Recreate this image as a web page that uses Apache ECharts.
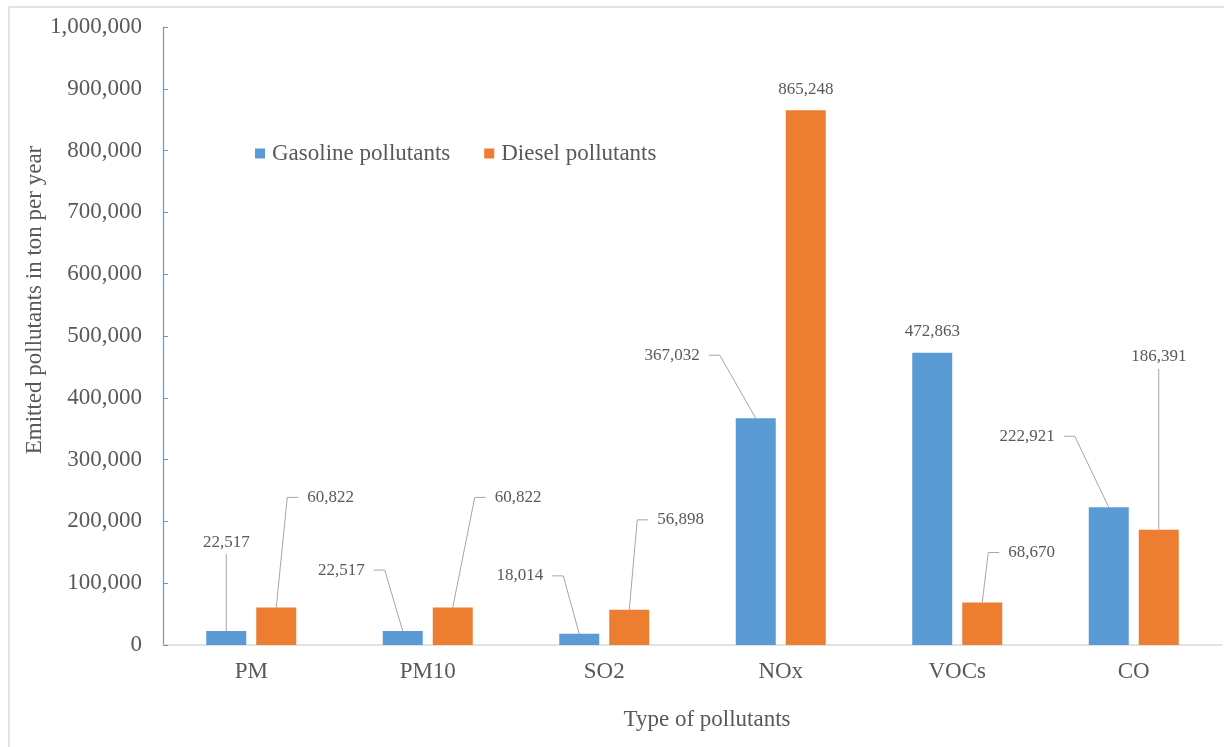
<!DOCTYPE html>
<html>
<head>
<meta charset="utf-8">
<script src="https://cdn.jsdelivr.net/npm/echarts@6/dist/echarts.min.js"></script>
<style>html,body{margin:0;padding:0;background:#fff;}#c{width:1224px;height:747px;}</style>
</head>
<body>
<div id="c"></div>
<script>
// ---- data ----
var categories = ['PM', 'PM10', 'SO2', 'NOx', 'VOCs', 'CO'];
var gasolineValues = [22517, 22517, 18014, 367032, 472863, 222921];
var dieselValues = [60822, 60822, 56898, 865248, 68670, 186391];
var seriesNames = ['Gasoline pollutants', 'Diesel pollutants'];
var yTicks = { min: 0, max: 1000000, interval: 100000 };

// ---- label placement (style, pixel offsets from bar top centre) ----
// side: 'c' = centred with vertical leader, 'n' = centred no leader,
//       'r' = text to the left of bar (right aligned), 'l' = text to the right of bar
var gasolineLabelPos = [
  { side: 'c', dx: 0, dy: -89 },
  { side: 'r', dx: -38, dy: -61 },
  { side: 'r', dx: -36, dy: -58 },
  { side: 'r', dx: -56, dy: -63 },
  { side: 'n', dx: 0, dy: -21 },
  { side: 'r', dx: -54, dy: -71 }
];
var dieselLabelPos = [
  { side: 'l', dx: 31, dy: -110 },
  { side: 'l', dx: 42, dy: -110 },
  { side: 'l', dx: 28, dy: -90 },
  { side: 'n', dx: 0, dy: -21 },
  { side: 'l', dx: 26, dy: -50 },
  { side: 'c', dx: 0, dy: -173 }
];

var BAR_W = 40, BAR_GAP = 10;
var FONT = '"Liberation Serif", "Times New Roman", serif';
var TXT = '#595959';
var BLUE = '#5B9BD5', ORANGE = '#ED7D31';

function fmt(v) { return v.toString().replace(/\B(?=(\d{3})+(?!\d))/g, ','); }

function makeLabelRender(posArr, shift) {
  return function (params, api) {
    var i = api.value(0), v = api.value(1);
    var p = api.coord([i, v]);
    var bx = p[0] + shift, by = p[1];
    var cfg = posArr[params.dataIndex];
    var tx = bx + cfg.dx, ty = by + cfg.dy;
    var children = [];
    var align = 'center';
    var lineStyle = { stroke: '#A6A6A6', lineWidth: 1, fill: null };
    if (cfg.side === 'c') {
      children.push({ type: 'polyline', shape: { points: [[bx, ty + 12], [bx, by]] }, style: lineStyle, silent: true });
    } else if (cfg.side === 'r') {
      align = 'right';
      children.push({ type: 'polyline', shape: { points: [[tx + 9, ty], [tx + 20, ty], [bx, by]] }, style: lineStyle, silent: true });
    } else if (cfg.side === 'l') {
      align = 'left';
      children.push({ type: 'polyline', shape: { points: [[tx - 9, ty], [tx - 20, ty], [bx, by]] }, style: lineStyle, silent: true });
    }
    children.push({
      type: 'text',
      style: { text: fmt(v), x: tx, y: ty, align: align, verticalAlign: 'middle', font: '17px ' + FONT, fill: TXT },
      silent: true
    });
    return { type: 'group', children: children };
  };
}

function toPairs(arr) { return arr.map(function (v, i) { return [i, v]; }); }

var chart = echarts.init(document.getElementById('c'), null, { renderer: 'canvas' });
chart.setOption({
  animation: false,
  backgroundColor: '#fff',
  grid: { left: 163, right: 2, top: 27, bottom: 102, containLabel: false },
  legend: {
    data: seriesNames,
    left: 250, top: 137,
    icon: 'rect', itemWidth: 10, itemHeight: 10, itemGap: 34,
    textStyle: { fontFamily: FONT, fontSize: 23, color: TXT, padding: [0, 0, 0, 2] },
    selectedMode: false
  },
  xAxis: {
    type: 'category',
    data: categories,
    axisLine: { lineStyle: { color: '#D9D9D9', width: 1.5 } },
    axisTick: { show: false },
    axisLabel: { fontFamily: FONT, fontSize: 23, color: TXT, margin: 15 },
    splitLine: { show: false }
  },
  yAxis: {
    type: 'value',
    min: yTicks.min, max: yTicks.max, interval: yTicks.interval,
    axisLine: { show: true, lineStyle: { color: BLUE, width: 1.2 } },
    axisTick: { show: true, inside: true, length: 5, lineStyle: { color: BLUE } },
    axisLabel: { fontFamily: FONT, fontSize: 23, color: TXT, margin: 21, formatter: function (v) { return fmt(v); } },
    splitLine: { show: false }
  },
  graphic: [
    { type: 'line', shape: { x1: 9, y1: 7, x2: 9, y2: 747 }, style: { stroke: '#D9D9D9', lineWidth: 1.5 }, silent: true },
    { type: 'line', shape: { x1: 9, y1: 7, x2: 1224, y2: 7 }, style: { stroke: '#D9D9D9', lineWidth: 1.5 }, silent: true },
    { type: 'text', x: 35, y: 300, rotation: Math.PI / 2,
      style: { text: 'Emitted pollutants in ton per year', align: 'center', verticalAlign: 'middle', font: '23px ' + FONT, fill: TXT }, silent: true },
    { type: 'text', x: 707, y: 720,
      style: { text: 'Type of pollutants', align: 'center', verticalAlign: 'middle', font: '23px ' + FONT, fill: TXT }, silent: true }
  ],
  series: [
    { name: seriesNames[0], type: 'bar', data: gasolineValues, barWidth: BAR_W, barGap: (BAR_GAP / BAR_W * 100) + '%', itemStyle: { color: BLUE } },
    { name: seriesNames[1], type: 'bar', data: dieselValues, barWidth: BAR_W, itemStyle: { color: ORANGE } },
    { name: 'gasLabels', type: 'custom', data: toPairs(gasolineValues), encode: { x: 0, y: 1 }, z: 5,
      renderItem: makeLabelRender(gasolineLabelPos, -(BAR_W + BAR_GAP) / 2), silent: true },
    { name: 'dieselLabels', type: 'custom', data: toPairs(dieselValues), encode: { x: 0, y: 1 }, z: 5,
      renderItem: makeLabelRender(dieselLabelPos, (BAR_W + BAR_GAP) / 2), silent: true }
  ]
});
</script>
</body>
</html>
